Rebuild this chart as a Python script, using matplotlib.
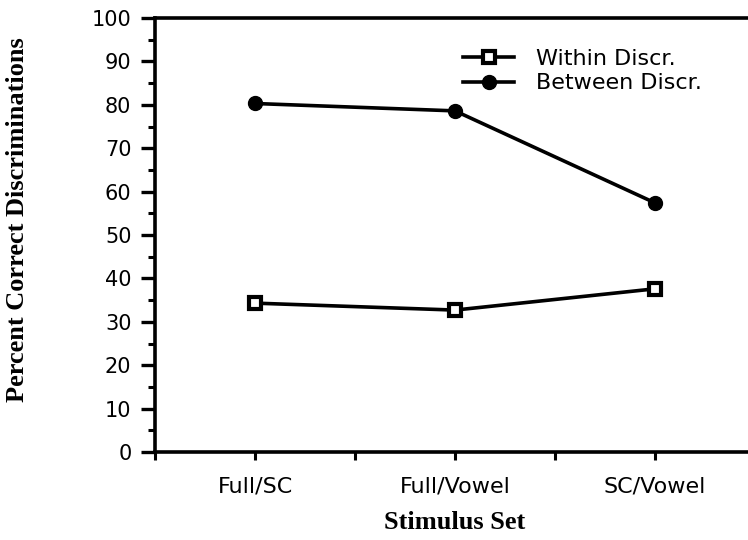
import matplotlib
matplotlib.use("Agg")
import matplotlib.pyplot as plt
from matplotlib.ticker import MultipleLocator

# data
stimulus_sets = ["Full/SC", "Full/Vowel", "SC/Vowel"]
within_discr = [34.3, 32.7, 37.6]
between_discr = [80.3, 78.6, 57.4]

SANS = ["DejaVu Sans"]
SERIF = ["Liberation Serif", "DejaVu Serif"]

fig = plt.figure(figsize=(7.48, 5.4), dpi=100)
ax = fig.add_axes([155 / 748, 88 / 540, 600 / 748, 434 / 540])

x = list(range(len(stimulus_sets)))
ax.plot(x, within_discr, color="black", lw=2.6, marker="s", ms=8.5,
        mfc="white", mec="black", mew=3, label="Within Discr.")
ax.plot(x, between_discr, color="black", lw=2.6, marker="o", ms=10,
        mfc="black", mec="black", label="Between Discr.")

ax.set_xlim(-0.5, 2.5)
ax.set_ylim(0, 100)
ax.set_xticks(x)
ax.set_xticklabels(stimulus_sets, family=SANS, fontsize=16)
ax.xaxis.set_minor_locator(MultipleLocator(0.5))
ax.yaxis.set_major_locator(MultipleLocator(10))
ax.yaxis.set_minor_locator(MultipleLocator(5))
for lab in ax.get_yticklabels():
    lab.set_family(SANS)
    lab.set_fontsize(15)

ax.tick_params(axis="y", which="major", direction="out", length=10, width=2.4, pad=7)
ax.tick_params(axis="y", which="minor", direction="out", length=5, width=2.2)
ax.tick_params(axis="x", which="both", direction="out", length=6, width=2.2, pad=12)

for side in ["left", "bottom", "top"]:
    ax.spines[side].set_linewidth(2.6)
ax.spines["right"].set_visible(False)

ax.set_xlabel("Stimulus Set", family=SERIF, fontweight="bold", fontsize=19, labelpad=10)
ax.set_ylabel("Percent Correct Discriminations", family=SERIF, fontweight="bold",
              fontsize=19)
ax.yaxis.set_label_coords(-0.21, 0.535)

ax.legend(loc="upper left", bbox_to_anchor=(0.48, 0.975), frameon=False,
          prop={"family": SANS, "size": 16}, handlelength=2.3,
          handletextpad=1.0, labelspacing=0.2)

fig.savefig("out.png", dpi=100)
